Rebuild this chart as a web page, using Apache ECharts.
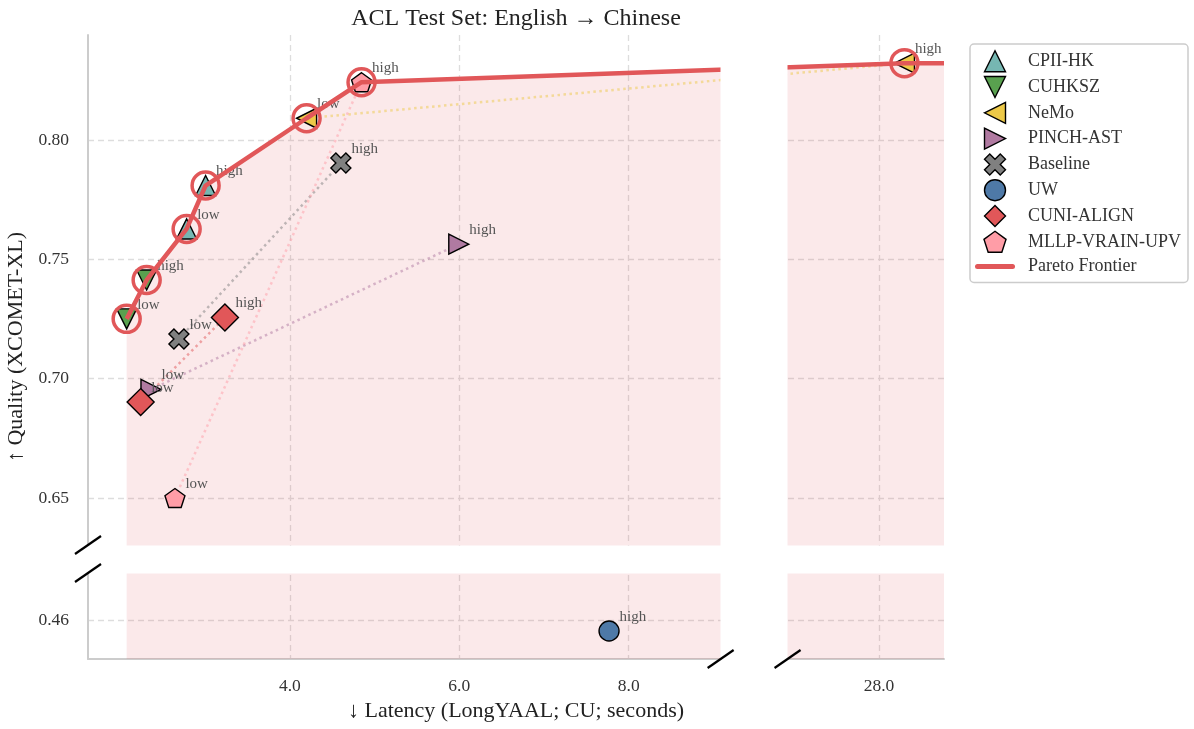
<!DOCTYPE html>
<html>
<head>
<meta charset="utf-8">
<script src="https://cdn.jsdelivr.net/npm/echarts@6/dist/echarts.min.js"></script>
<style>html,body{margin:0;padding:0;background:#fff}#chart{width:1194px;height:729px}</style>
</head>
<body>
<div id="chart"></div>
<script>
// ---------------- data ----------------
const teams = ['CPII-HK', 'CUHKSZ', 'NeMo', 'PINCH-AST', 'Baseline', 'UW', 'CUNI-ALIGN', 'MLLP-VRAIN-UPV'];
const lowLatency  = [2.781, 2.073, 4.197, 2.360, 2.690, null, 2.238, 2.643];
const lowQuality  = [0.7628, 0.7251, 0.8092, 0.6955, 0.7167, null, 0.6902, 0.6500];
const highLatency = [3.005, 2.309, 28.30, 5.994, 4.602, 7.768, 3.233, 4.846];
const highQuality = [0.7810, 0.7414, 0.8323, 0.7564, 0.7904, 0.4554, 0.7257, 0.8243];
const xTicks = [4, 6, 8, 28];
const yTicks = [0.46, 0.65, 0.70, 0.75, 0.80];

// ---------------- styles ----------------
const FONT = '"Liberation Serif", "Times New Roman", serif';
const teamColors = ['#76b7b2', '#59a14f', '#edc948', '#b07aa1', '#808080', '#4e79a7', '#e15759', '#ff9da7'];
const teamSymbols = [
  'path://M0,10L5,0L10,10Z',
  'path://M0,0L10,0L5,10Z',
  'path://M0,5L10,0L10,10Z',
  'path://M0,0L10,5L0,10Z',
  'path://M1,0L2,1L3,0L4,1L3,2L4,3L3,4L2,3L1,4L0,3L1,2L0,1Z',
  'circle',
  'path://M5,0L10,5L5,10L0,5Z',
  'path://M5,0L9.755,3.455L7.939,9.045L2.061,9.045L0.245,3.455Z'
];
const teamSizes = [20, 20, 20, 20, 20, 20, 27, 20];
const frontierColor = '#e15759';

const X_MIN = 1.6165, X_MAX = 28.767, X_BRK = [9.0855, 26.92], X_GAP = 0.79;
const Y_MIN = 0.44365, Y_MAX = 0.8441, Y_BRK = [0.4797, 0.6303], Y_GAP = 0.01174;

// ---------------- pareto frontier (derived) ----------------
const allPts = [];
teams.forEach((t, i) => {
  if (lowLatency[i] != null) allPts.push([lowLatency[i], lowQuality[i]]);
  if (highLatency[i] != null) allPts.push([highLatency[i], highQuality[i]]);
});
allPts.sort((a, b) => a[0] - b[0]);
const frontier = [];
let best = -Infinity;
allPts.forEach(p => { if (p[1] > best) { frontier.push(p); best = p[1]; } });
const frontierExt = frontier.concat([[X_MAX, frontier[frontier.length - 1][1]]]);

// ---------------- series ----------------
const series = [];
series.push({
  name: 'frontier-area', type: 'line', data: frontierExt, symbol: 'none', z: 1, silent: true,
  lineStyle: { width: 0 }, areaStyle: { color: 'rgba(225,87,89,0.13)', origin: 'start', opacity: 1 }
});
teams.forEach((t, i) => {
  if (lowLatency[i] != null && highLatency[i] != null) {
    series.push({
      name: t + ' link', type: 'line', symbol: 'none', z: 2, silent: true,
      data: [[lowLatency[i], lowQuality[i]], [highLatency[i], highQuality[i]]],
      lineStyle: { color: teamColors[i], width: 2.5, type: [2.5, 3.5], opacity: 0.5 }
    });
  }
});
teams.forEach((t, i) => {
  const d = [];
  if (lowLatency[i] != null) d.push({ name: 'low', value: [lowLatency[i], lowQuality[i]] });
  if (highLatency[i] != null) d.push({ name: 'high', value: [highLatency[i], highQuality[i]] });
  series.push({
    name: t, type: 'scatter', data: d, z: 3,
    symbol: teamSymbols[i], symbolSize: teamSizes[i], symbolKeepAspect: true,
    itemStyle: { color: teamColors[i], borderColor: '#000', borderWidth: 1.4, opacity: 1 },
    label: {
      show: true, formatter: '{b}', position: ['50%', '50%'], offset: [10.5, -14],
      align: 'left', verticalAlign: 'middle',
      fontFamily: FONT, fontSize: 15, color: '#555'
    }
  });
});
series.push({
  name: 'Pareto Frontier', type: 'line', data: frontierExt, symbol: 'none', z: 4,
  lineStyle: { color: frontierColor, width: 4.5, opacity: 1 }, itemStyle: { color: frontierColor }
});
series.push({
  name: 'frontier-rings', type: 'scatter', data: frontier, z: 5, silent: true,
  symbol: 'circle', symbolSize: 27,
  itemStyle: { color: 'rgba(0,0,0,0)', borderColor: frontierColor, borderWidth: 3.5, opacity: 1 }
});

const legendData = teams.map((t, i) => ({
  name: t, icon: teamSymbols[i],
  itemStyle: { color: teamColors[i], borderColor: '#000', borderWidth: 1.4 }
}));
legendData.push({
  name: 'Pareto Frontier',
  icon: 'path://M2.5,0H37.5A2.5,2.5 0 0 1 37.5,5H2.5A2.5,2.5 0 0 1 2.5,0Z',
  itemStyle: { color: frontierColor, borderWidth: 0 }
});

const chart = echarts.init(document.getElementById('chart'), null, { renderer: 'canvas' });
chart.setOption({
  animation: false,
  backgroundColor: '#fff',
  title: {
    text: 'ACL Test Set: English \u2192 Chinese', left: 511, top: 2, textAlign: 'center',
    textStyle: { fontFamily: FONT, fontSize: 24, fontWeight: 'normal', color: '#222' }
  },
  legend: {
    orient: 'vertical', left: 970, top: 44,
    itemWidth: 40, itemHeight: 21, itemGap: 3.4,
    padding: [6, 7, 6, 5],
    borderColor: '#cccccc', borderWidth: 1.5, borderRadius: 4,
    textStyle: { fontFamily: FONT, fontSize: 18, color: '#333', padding: [0, 0, 0, 8], lineHeight: 20 },
    data: legendData
  },
  grid: { left: 88, right: 250, top: 35, bottom: 70, containLabel: false, outerBoundsMode: 'none' },
  xAxis: {
    type: 'value', min: X_MIN, max: X_MAX,
    breaks: [{ start: X_BRK[0], end: X_BRK[1], gap: X_GAP }],
    breakArea: {
      show: true, expandOnClick: false, zigzagAmplitude: 0,
      itemStyle: { color: '#fff', borderWidth: 0, opacity: 1 }
    },
    name: '\u2193 Latency (LongYAAL; CU; seconds)', nameLocation: 'middle', nameGap: 41,
    nameTextStyle: { fontFamily: FONT, fontSize: 22, color: '#222' },
    axisLine: { show: true, onZero: false, lineStyle: { color: '#cccccc', width: 2 } },
    axisTick: { show: false, customValues: xTicks },
    axisLabel: {
      customValues: xTicks, margin: 18, formatter: v => Number(v).toFixed(1),
      fontFamily: FONT, fontSize: 17.5, color: '#333'
    },
    splitLine: { show: true, lineStyle: { color: '#dddddd', width: 1.3, type: [6, 4] } }
  },
  yAxis: {
    type: 'value', min: Y_MIN, max: Y_MAX,
    breaks: [{ start: Y_BRK[0], end: Y_BRK[1], gap: Y_GAP }],
    breakArea: {
      show: true, expandOnClick: false, zigzagAmplitude: 0,
      itemStyle: { color: '#fff', borderWidth: 0, opacity: 1 }
    },
    name: '\u2191 Quality (XCOMET-XL)', nameLocation: 'middle', nameGap: 55,
    nameTextStyle: { fontFamily: FONT, fontSize: 22, color: '#222' },
    axisLine: { show: true, onZero: false, lineStyle: { color: '#cccccc', width: 2 } },
    axisTick: { show: false, customValues: yTicks },
    axisLabel: {
      customValues: yTicks, margin: 19, formatter: v => Number(v).toFixed(2),
      fontFamily: FONT, fontSize: 17.5, color: '#333'
    },
    splitLine: { show: true, lineStyle: { color: '#dddddd', width: 1.3, type: [6, 4] } }
  },
  series: series
});

// break slashes, positioned from the axes
function slash(c) {
  return { type: 'line', z: 100, shape: { x1: c[0] - 13, y1: c[1] + 9, x2: c[0] + 13, y2: c[1] - 9 },
           style: { stroke: '#000', lineWidth: 2.2 } };
}
const p1 = chart.convertToPixel({ gridIndex: 0 }, [X_MIN, Y_BRK[0]]);
const p2 = chart.convertToPixel({ gridIndex: 0 }, [X_MIN, Y_BRK[1]]);
const p3 = chart.convertToPixel({ gridIndex: 0 }, [X_BRK[0], Y_MIN]);
const p4 = chart.convertToPixel({ gridIndex: 0 }, [X_BRK[1], Y_MIN]);
chart.setOption({ graphic: [slash(p1), slash(p2), slash(p3), slash(p4)] });
</script>
</body>
</html>
